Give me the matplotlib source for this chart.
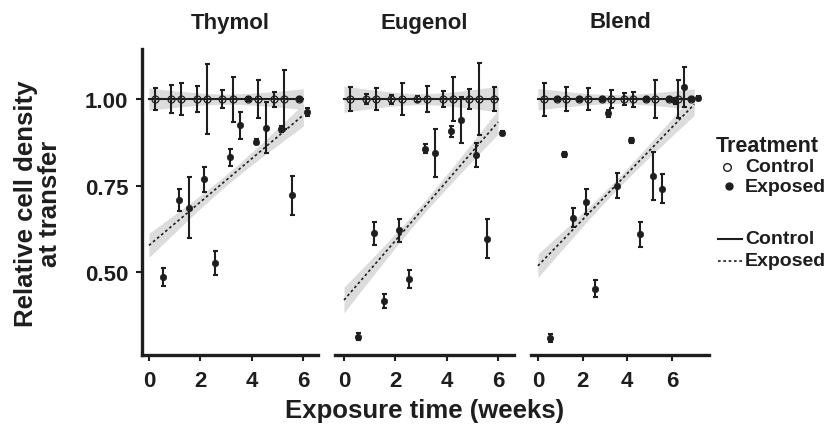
import numpy as np
import matplotlib
matplotlib.use("Agg")
import matplotlib.pyplot as plt
from matplotlib.lines import Line2D

# ---------------- data ----------------
panels = ["Thymol", "Eugenol", "Blend"]

times_thymol = [0.4, 1.0, 1.4, 2.0, 2.4, 3.0, 3.4, 4.0, 4.4, 5.0, 5.4, 6.0]
times_eugenol = [0.4, 1.0, 1.4, 2.0, 2.4, 3.0, 3.4, 4.0, 4.4, 5.0, 5.4, 6.0]
times_blend = [0.4, 1.0, 1.4, 2.0, 2.4, 3.0, 3.4, 4.0, 4.4, 5.0, 5.4, 6.0, 6.4, 7.0]

ctrl_mean_thymol = [1.0] * 12
ctrl_err_thymol = [0.032, 0.040, 0.047, 0.037, 0.102, 0.026, 0.065, 0.005, 0.055, 0.022, 0.085, 0.005]
exp_mean_thymol = [0.486, 0.709, 0.686, 0.768, 0.527, 0.832, 0.924, 0.877, 0.917, 0.914, 0.722, 0.962]
exp_err_thymol = [0.026, 0.032, 0.089, 0.037, 0.035, 0.024, 0.040, 0.008, 0.074, 0.008, 0.056, 0.011]

ctrl_mean_eugenol = [1.0] * 12
ctrl_err_eugenol = [0.035, 0.015, 0.031, 0.013, 0.046, 0.008, 0.038, 0.024, 0.064, 0.029, 0.104, 0.035]
exp_mean_eugenol = [0.313, 0.612, 0.415, 0.621, 0.481, 0.856, 0.845, 0.907, 0.940, 0.839, 0.596, 0.903]
exp_err_eugenol = [0.011, 0.033, 0.020, 0.033, 0.026, 0.013, 0.070, 0.016, 0.067, 0.035, 0.056, 0.006]

ctrl_mean_blend = [1.0] * 14
ctrl_err_blend = [0.048, 0.006, 0.035, 0.005, 0.032, 0.006, 0.027, 0.018, 0.022, 0.006, 0.055, 0.006, 0.055, 0.006]
exp_mean_blend = [0.310, 0.840, 0.657, 0.703, 0.452, 0.959, 0.750, 0.881, 0.609, 0.777, 0.741, 0.994, 1.035, 1.004]
exp_err_blend = [0.012, 0.008, 0.027, 0.036, 0.025, 0.010, 0.036, 0.008, 0.036, 0.070, 0.042, 0.008, 0.058, 0.005]

# fitted regression lines (value at start / end of time range) and band half-widths (start, mid, end)
fit_range = {"Thymol": (0.0, 6.0), "Eugenol": (0.0, 6.0), "Blend": (0.0, 7.0)}
fit_ctrl = {"Thymol": (1.0, 1.0), "Eugenol": (1.0, 1.0), "Blend": (1.0, 1.0)}
fit_exp = {"Thymol": (0.577, 0.954), "Eugenol": (0.419, 0.934), "Blend": (0.518, 0.985)}
band_ctrl = {"Thymol": (0.032, 0.015, 0.030), "Eugenol": (0.038, 0.016, 0.037), "Blend": (0.031, 0.013, 0.030)}
band_exp = {"Thymol": (0.035, 0.016, 0.032), "Eugenol": (0.037, 0.017, 0.035), "Blend": (0.034, 0.015, 0.032)}

x_ticks = [0, 2, 4, 6]
y_ticks = [0.50, 0.75, 1.00]
y_tick_labels = ["0.50", "0.75", "1.00"]

data = {
    "Thymol": (times_thymol, ctrl_mean_thymol, ctrl_err_thymol, exp_mean_thymol, exp_err_thymol),
    "Eugenol": (times_eugenol, ctrl_mean_eugenol, ctrl_err_eugenol, exp_mean_eugenol, exp_err_eugenol),
    "Blend": (times_blend, ctrl_mean_blend, ctrl_err_blend, exp_mean_blend, exp_err_blend),
}

# ---------------- style ----------------
plt.rcParams["font.family"] = ["Liberation Sans", "DejaVu Sans"]
plt.rcParams["font.weight"] = "bold"
INK = "#1e1e1e"
BAND = "#dcdcdc"
DODGE = 0.15

W, H = 827, 427
fig = plt.figure(figsize=(W / 100, H / 100), dpi=100)

def fx(px):
    return px / W

def fy(py):
    return 1 - py / H

panel_px = [(142, 176), (335, 179), (531, 178)]
xlims = {"Thymol": (-0.27, 6.57), "Eugenol": (-0.35, 6.62), "Blend": (-0.31, 7.66)}
top_px, bot_px = 50, 356
ylim = (0.26, 1.145)


def band(x, start, mid, end, x0, x1):
    xm = (x0 + x1) / 2
    u = (x - xm) / ((x1 - x0) / 2)
    edge = np.where(u < 0, start, end)
    return np.sqrt(mid ** 2 + (edge ** 2 - mid ** 2) * u ** 2)


for i, name in enumerate(panels):
    left, width = panel_px[i]
    ax = fig.add_axes([fx(left), fy(bot_px), width / W, (bot_px - top_px) / H])
    t, cm, ce, em, ee = data[name]
    t = np.asarray(t)

    x0, x1 = fit_range[name]
    xs = np.linspace(x0, x1, 100)
    for fit, bnd, ls in ((fit_ctrl[name], band_ctrl[name], "-"), (fit_exp[name], band_exp[name], (0, (1.6, 1.6)))):
        ys = fit[0] + (fit[1] - fit[0]) * (xs - x0) / (x1 - x0)
        hw = band(xs, *bnd, x0, x1)
        ax.fill_between(xs, ys - hw, ys + hw, color=BAND, lw=0, zorder=1)
        ax.plot(xs, ys, color=INK, lw=1.5 if ls == "-" else 1.2, ls=ls, zorder=2)

    ax.errorbar(t - DODGE, cm, yerr=ce, fmt="none", ecolor=INK, elinewidth=1.5,
                capsize=1.8, capthick=1.5, zorder=3)
    ax.plot(t - DODGE, cm, ls="none", marker="o", ms=5, mfc="none", mec=INK, mew=0.9, zorder=4)
    ax.errorbar(t + DODGE, em, yerr=ee, fmt="none", ecolor=INK, elinewidth=1.5,
                capsize=1.8, capthick=1.5, zorder=3)
    ax.plot(t + DODGE, em, ls="none", marker="o", ms=4.6, mfc=INK, mec=INK, mew=0.5, zorder=4)

    ax.set_xlim(*xlims[name])
    ax.set_ylim(*ylim)
    ax.set_facecolor("none")
    for s in ("top", "right"):
        ax.spines[s].set_visible(False)
    ax.spines["bottom"].set_linewidth(2.4)
    ax.spines["bottom"].set_color(INK)
    ax.spines["bottom"].set_capstyle("projecting")
    ax.set_xticks(x_ticks)
    ax.set_xticklabels([str(v) for v in x_ticks])
    ax.tick_params(axis="x", length=4.3, width=1.5, color=INK, pad=6.5,
                   labelsize=16, labelcolor=INK)
    if i == 0:
        ax.spines["left"].set_linewidth(2.4)
        ax.spines["left"].set_color(INK)
        ax.spines["left"].set_capstyle("projecting")
        ax.set_yticks(y_ticks)
        ax.set_yticklabels(y_tick_labels)
        ax.tick_params(axis="y", length=4.3, width=1.5, color=INK, pad=5.5,
                       labelsize=16, labelcolor=INK)
    else:
        ax.spines["left"].set_visible(False)
        ax.set_yticks([])
    for lab in ax.get_xticklabels() + ax.get_yticklabels():
        lab.set_fontweight("bold")

    fig.text(fx(left + width / 2), fy(23), name, ha="center", va="center",
             fontsize=16, fontweight="bold", color=INK)

# axis titles
fig.text(fx(425), fy(411), "Exposure time (weeks)", ha="center", va="center",
         fontsize=18.5, fontweight="bold", color=INK)
fig.text(fx(38), fy(204), "Relative cell density\nat transfer", ha="center", va="center",
         rotation=90, fontsize=18.5, fontweight="bold", color=INK, linespacing=1.0,
         multialignment="center")

# legend (drawn manually)
fig.text(fx(716), fy(147), "Treatment", ha="left", va="center", fontsize=15.5,
         fontweight="bold", color=INK)
fig.add_artist(Line2D([fx(727)], [fy(168)], transform=fig.transFigure, ls="none",
                      marker="o", ms=5.5, mfc="none", mec=INK, mew=1.0))
fig.text(fx(745), fy(168), "Control", ha="left", va="center", fontsize=14,
         fontweight="bold", color=INK)
fig.add_artist(Line2D([fx(729)], [fy(187)], transform=fig.transFigure, ls="none",
                      marker="o", ms=5, mfc=INK, mec=INK))
fig.text(fx(745), fy(187), "Exposed", ha="left", va="center", fontsize=14,
         fontweight="bold", color=INK)
fig.add_artist(Line2D([fx(718), fx(742)], [fy(240), fy(240)], transform=fig.transFigure,
                      color=INK, lw=1.5))
fig.text(fx(745), fy(240), "Control", ha="left", va="center", fontsize=14,
         fontweight="bold", color=INK)
fig.add_artist(Line2D([fx(718), fx(742)], [fy(262), fy(262)], transform=fig.transFigure,
                      color=INK, lw=1.2, ls=(0, (1.6, 1.6))))
fig.text(fx(745), fy(262), "Exposed", ha="left", va="center", fontsize=14,
         fontweight="bold", color=INK)

fig.savefig("out.png", dpi=100, facecolor="white")
